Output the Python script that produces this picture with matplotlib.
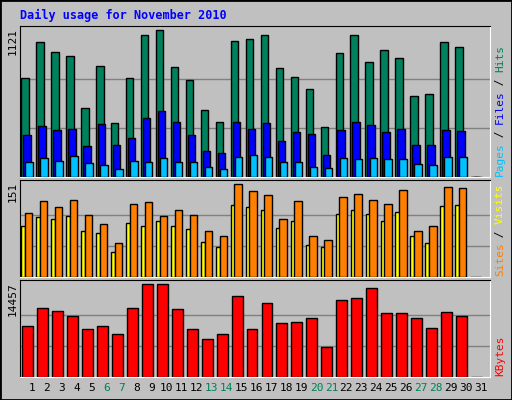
import matplotlib
matplotlib.use("Agg")
import matplotlib.pyplot as plt
import numpy as np

days = list(range(1, 32))
hits = [756,1029,954,923,528,848,414,756,1083,1121,840,741,513,421,1037,1052,1083,831,764,672,383,946,1083,878,969,908,619,634,1029,992,0]
files = [322,390,360,367,238,406,246,300,451,505,421,322,201,185,421,367,414,276,345,330,170,360,421,399,345,367,246,246,360,352,0]
pages = [117,147,124,162,109,94,64,124,117,147,117,117,79,64,154,170,154,117,117,79,71,147,139,147,139,139,102,94,154,154,0]
visits = [103,123,114,125,100,86,55,118,121,98,108,100,75,67,151,140,132,94,123,67,60,129,135,125,118,141,75,83,146,144,0]
sites = [82,97,94,98,75,72,41,87,82,91,82,77,57,48,117,114,108,79,91,52,49,102,108,102,91,105,67,55,115,117,0]
kbytes = [7967,10658,10183,9392,7492,7967,6701,10658,14457,14457,10500,7492,5909,6701,12558,7492,11450,8442,8600,9075,4643,11924,12241,13824,9867,9867,9075,7651,10025,9392,0]
weekend = {6,7,13,14,20,21,27,28}

W, H = 512, 400
fig = plt.figure(figsize=(W/100, H/100), dpi=100, facecolor="#c0c0c0")
x = np.array(days)

def mkax(y0, y1):
    ax = fig.add_axes([20/W, 1-y1/H, 470/W, (y1-y0)/H], facecolor="#c0c0c0")
    ax.set_xlim(0.47, 31.87)
    ax.set_xticks([]); ax.set_yticks([])
    for s in ("left", "top"):
        ax.spines[s].set_color("black")
    for s in ("right", "bottom"):
        ax.spines[s].set_color("white")
    return ax

ek = dict(edgecolor="black", linewidth=1)
ax1 = mkax(26, 177)
m = max(hits)
for f in (1/3, 2/3):
    ax1.axhline(m*f, color="#808080", lw=1, zorder=0)
ax1.bar(x-0.2, hits, 0.5, color="#00805c", **ek, zorder=2)
ax1.bar(x-0.07, files, 0.5, color="#0000ff", **ek, zorder=3)
ax1.bar(x+0.07, pages, 0.5, color="#00c0ff", **ek, zorder=4)
ax1.set_ylim(0, m*1.025)

ax2 = mkax(180, 277)
m2 = max(visits)
for f in (1/3, 2/3):
    ax2.axhline(m2*f, color="#808080", lw=1, zorder=0)
ax2.bar(x-0.31, sites, 0.27, color="#ffff00", **ek, zorder=2)
ax2.bar(x+0.05, visits, 0.5, color="#ff8000", **ek, zorder=3)
ax2.set_ylim(0, m2*1.04)

ax3 = mkax(280, 377)
m3 = max(kbytes)
for f in (1/3, 2/3):
    ax3.axhline(m3*f, color="#808080", lw=1, zorder=0)
ax3.bar(x-0.03, kbytes, 0.73, color="#ff0000", **ek, zorder=2)
ax3.set_ylim(0, m3*1.04)

mono = "DejaVu Sans Mono"
fig.text(20/W, 1-15/H, "Daily usage for November 2010", color="#0000ff",
         fontsize=8.5, fontweight="bold", family=mono, va="center")
for yy, lab in ((28, "1121"), (182, "151"), (282, "14457")):
    fig.text(13/W, 1-yy/H, lab, rotation=90, fontsize=8, family=mono, ha="center", va="top")

for d in days:
    fig.text((32+(d-1)*14.97)/W, 1-388/H, str(d), fontsize=8, family=mono,
             ha="center", va="center", color="#00805c" if d in weekend else "black")

def side(ybottom, parts):
    y = ybottom
    for txt, col in parts:
        fig.text(500/W, 1-y/H, txt, rotation=90, fontsize=8, family=mono,
                 color=col, ha="center", va="bottom")
        y -= len(txt)*6.5
side(176, [("Pages", "#00c0ff"), (" / ", "black"), ("Files", "#0000ff"), (" / ", "black"), ("Hits", "#00805c")])
side(276, [("Sites", "#ff8000"), (" / ", "black"), ("Visits", "#ffff00")])
side(376, [("KBytes", "#ff0000")])

fig.patches.append(plt.Rectangle((0, 0), 1, 1, transform=fig.transFigure, fill=False,
                                 edgecolor="black", lw=2))
fig.savefig("out.png", dpi=100, facecolor=fig.get_facecolor())
